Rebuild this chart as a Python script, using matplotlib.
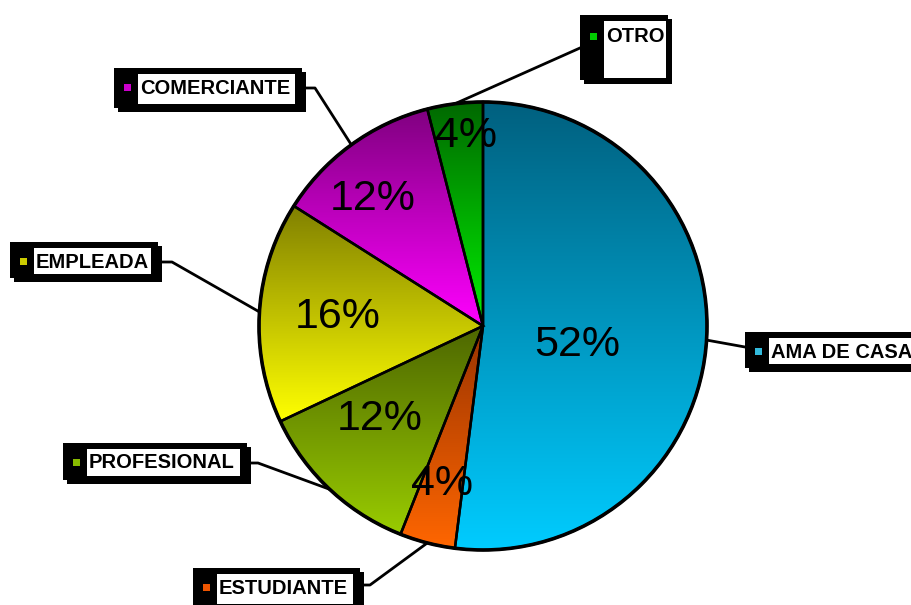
import numpy as np
import matplotlib.pyplot as plt
from matplotlib.patches import Wedge, Rectangle

# datos del grafico (ocupacion)
categorias = ['AMA DE CASA', 'ESTUDIANTE', 'PROFESIONAL', 'EMPLEADA', 'COMERCIANTE', 'OTRO']
porcentajes = [52, 4, 12, 16, 12, 4]
etiquetas = ['52%', '4%', '12%', '16%', '12%', '4%']

# colores de degradado (arriba, abajo) y del marcador
color_arriba = ['#00607F', '#993300', '#4D6600', '#808000', '#800080', '#006800']
color_abajo = ['#00CCFF', '#FF6600', '#99CC00', '#FFFF00', '#FF00FF', '#00F000']
color_marca = ['#33BBDD', '#EE5500', '#88BB00', '#CCCC00', '#CC00CC', '#00CC00']

# layout en pixeles de imagen (y hacia abajo)
cx, cy, R = 483, 326, 224
r_etq = [0.43, 0.73, 0.62, 0.65, 0.75, 0.85]      # radio relativo de los %
d_ang = [8, 0, 5, 0, -5, 2]                         # ajuste angular de los %
cajas = [(745, 332, 175, 36), (193, 568, 167, 40), (63, 443, 184, 37),
         (10, 242, 148, 36), (114, 68, 188, 40), (580, 15, 88, 65)]
codo = [None, (370, 585), (258, 463), (172, 262), (315, 88), None]
ancla = [(745, 347), (360, 585), (247, 463), (158, 262), (302, 88), (580, 48)]

W, H = 911, 605
fig = plt.figure(figsize=(W / 100, H / 100), dpi=100)
ax = fig.add_axes([0, 0, 1, 1])
ax.set_xlim(0, W)
ax.set_ylim(H, 0)
ax.axis('off')

fuente = 'Liberation Sans'


def degradado(c1, c2, n=256):
    a = np.array(plt.matplotlib.colors.to_rgb(c1))
    b = np.array(plt.matplotlib.colors.to_rgb(c2))
    t = np.linspace(0, 1, n)[:, None]
    return (a + (b - a) * t)[:, None, :]


acum = np.cumsum([0] + porcentajes)
for i, cat in enumerate(categorias):
    t1 = -90 + acum[i] * 3.6
    t2 = -90 + acum[i + 1] * 3.6
    w = Wedge((cx, cy), R, t1, t2, facecolor='none', edgecolor='black', lw=1.8, zorder=3)
    ax.add_patch(w)
    # caja del sector para el degradado
    th = np.radians(np.linspace(t1, t2, 200))
    xs = np.concatenate([[cx], cx + R * np.cos(th)])
    ys = np.concatenate([[cy], cy + R * np.sin(th)])
    im = ax.imshow(degradado(color_arriba[i], color_abajo[i]),
                   extent=(xs.min(), xs.max(), ys.max(), ys.min()),
                   origin='upper', aspect='auto', interpolation='bilinear', zorder=2)
    im.set_clip_path(w)

    # etiqueta de porcentaje
    tm = np.radians((t1 + t2) / 2 + d_ang[i])
    ax.text(cx + r_etq[i] * R * np.cos(tm), cy + r_etq[i] * R * np.sin(tm), etiquetas[i],
            ha='center', va='center', fontsize=31, family=fuente, zorder=5)

    # linea guia
    te = np.radians((t1 + t2) / 2)
    px, py = cx + R * np.cos(te), cy + R * np.sin(te)
    pts = [(px, py)]
    if codo[i] is not None:
        pts.append(codo[i])
    pts.append(ancla[i])
    pts = np.array(pts)
    ax.plot(pts[:, 0], pts[:, 1], color='black', lw=2, zorder=1)

    # caja de la leyenda
    bx, by, bw, bh = cajas[i]
    ax.add_patch(Rectangle((bx + 4, by + 4), bw, bh, facecolor='black', edgecolor='none', zorder=6))
    ax.add_patch(Rectangle((bx, by), bw, bh, facecolor='black', edgecolor='none', zorder=6))
    alto_b = bh - 10 if i != 5 else bh - 8
    ancho_b = bw - 31 if i != 5 else bw - 26
    ax.add_patch(Rectangle((bx + 24, by + 6), ancho_b, alto_b, facecolor='white',
                           edgecolor='none', zorder=7))
    ty = by + 20 if i != 5 else by + 22
    ax.add_patch(Rectangle((bx + 10, ty - 4), 7, 7, facecolor=color_marca[i],
                           edgecolor='none', zorder=8))
    ax.text(bx + 26, ty, cat, ha='left', va='center', fontsize=14.5, fontweight='bold',
            family=fuente, zorder=8)

# contorno del pastel
ax.add_patch(plt.Circle((cx, cy), R, facecolor='none', edgecolor='black', lw=2.6, zorder=4))

fig.savefig('out.png', dpi=100)
